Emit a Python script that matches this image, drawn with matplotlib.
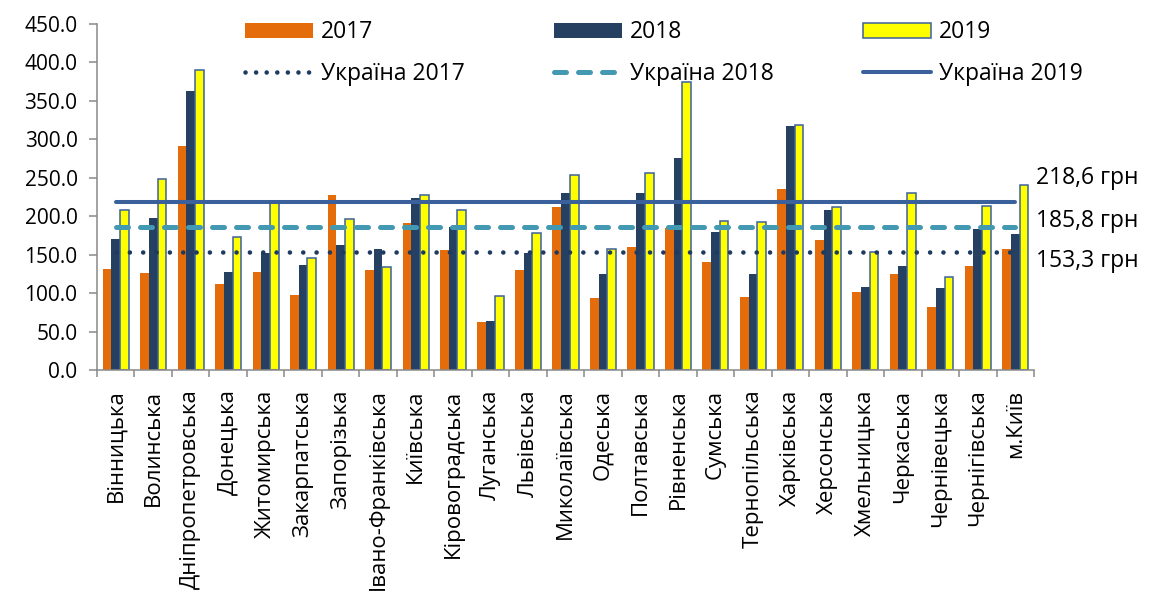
import numpy as np
import matplotlib
matplotlib.use('Agg')
import matplotlib.pyplot as plt
from matplotlib.patches import Patch
from matplotlib.lines import Line2D

plt.rcParams['font.family'] = ['Open Sans', 'DejaVu Sans']

# дані
regions = ['Вінницька', 'Волинська', 'Дніпропетровська', 'Донецька', 'Житомирська',
           'Закарпатська', 'Запорізька', 'Івано-Франківська', 'Київська', 'Кіровоградська',
           'Луганська', 'Львівська', 'Миколаївська', 'Одеська', 'Полтавська',
           'Рівненська', 'Сумська', 'Тернопільська', 'Харківська', 'Херсонська',
           'Хмельницька', 'Черкаська', 'Чернівецька', 'Чернігівська', 'м.Київ']
v2017 = [131.6, 126.4, 291.9, 112.5, 128.1, 97.2, 227.5, 130.7, 191.5, 156.4,
         62.9, 129.8, 212.4, 93.3, 160.3, 185.0, 140.7, 95.5, 235.8, 169.4,
         102.0, 125.1, 82.5, 135.0, 158.0]
v2018 = [170.7, 197.2, 363.0, 128.1, 152.5, 136.3, 162.0, 157.2, 223.6, 185.8,
         63.8, 152.0, 229.7, 125.5, 230.6, 275.7, 178.9, 125.5, 317.0, 207.6,
         108.2, 135.5, 106.9, 182.8, 177.2]
v2019 = [208.5, 248.9, 389.6, 172.8, 218.0, 146.3, 196.8, 134.0, 228.0, 207.6,
         95.9, 177.6, 253.2, 158.0, 256.2, 374.8, 193.2, 191.9, 318.3, 211.9,
         153.3, 230.6, 120.7, 213.2, 240.2]
ua2017 = 153.3
ua2018 = 185.8
ua2019 = 218.6

c17 = '#e46c0a'
c18 = '#254061'
c19 = '#ffff00'
c_edge = '#3a619c'
c_ua17 = '#1f3a60'
c_ua18 = '#4499b2'
c_ua19 = '#3a619c'

fig = plt.figure(figsize=(11.52, 5.93), dpi=100)
ax = fig.add_axes([97 / 1152, 1 - 370 / 593, (1034 - 97) / 1152, (370 - 24) / 593])

x = np.arange(len(regions))
w = 0.232
ax.bar(x - w, v2017, w, color=c17, linewidth=0)
ax.bar(x, v2018, w, color=c18, linewidth=0)
ax.bar(x + w, v2019, w, color=c19, edgecolor=c_edge, linewidth=1.1)

ax.plot(x, [ua2017] * len(x), color=c_ua17, lw=3.3, linestyle=(0, (0.01, 2.9)),
        dash_capstyle='round')
ax.plot(x, [ua2018] * len(x), color=c_ua18, lw=3.6, linestyle=(0, (2.4, 2.4)),
        dash_capstyle='round')
ax.plot(x, [ua2019] * len(x), color=c_ua19, lw=2.9, solid_capstyle='round')

ax.set_xlim(-0.5, len(regions) - 0.5)
ax.set_ylim(0, 450)
ax.set_yticks(np.arange(0, 451, 50))
ax.yaxis.set_major_formatter(matplotlib.ticker.FormatStrFormatter('%.1f'))
ax.tick_params(axis='y', labelsize=15, length=6, width=1.1, color='#898989', pad=8)

ax.set_xticks(x)
ax.set_xticklabels(regions, rotation=90, fontsize=16, va='top', ha='center')
ax.tick_params(axis='x', which='major', length=0, pad=14)
ax.set_xticks(np.arange(-0.5, len(regions)), minor=True)
ax.tick_params(axis='x', which='minor', length=5, width=1.1, color='#898989')

for s in ['top', 'right']:
    ax.spines[s].set_visible(False)
for s in ['left', 'bottom']:
    ax.spines[s].set_color('#898989')
    ax.spines[s].set_linewidth(1.1)

tr = ax.get_yaxis_transform()
for val, ypos in [(ua2019, 249.3), (ua2018, 193.3), (ua2017, 142.4)]:
    ax.text(1.002, ypos, f'{val:.1f}'.replace('.', ',') + ' грн', transform=tr,
            fontsize=16.5, va='center', ha='left')

handles = [Patch(facecolor=c17, edgecolor='none'),
           Line2D([], [], color=c_ua17, lw=3.3, linestyle=(0, (0.01, 2.3)), dash_capstyle='round'),
           Patch(facecolor=c18, edgecolor='none'),
           Line2D([], [], color=c_ua18, lw=3.6, linestyle=(0, (2.4, 2.4)), dash_capstyle='round'),
           Patch(facecolor=c19, edgecolor=c_edge, linewidth=1.1),
           Line2D([], [], color=c_ua19, lw=2.9, solid_capstyle='round')]
labels = ['2017', 'Україна 2017', '2018', 'Україна 2018', '2019', 'Україна 2019']
fig.legend(handles, labels, ncol=3, loc='center', bbox_to_anchor=(664 / 1152, 1 - 53 / 593),
           frameon=False, fontsize=16.5, handlelength=2.97, handleheight=0.655,
           handletextpad=0.35, columnspacing=3.9, labelspacing=0.75, borderpad=0)

fig.savefig('out.png', dpi=100)
